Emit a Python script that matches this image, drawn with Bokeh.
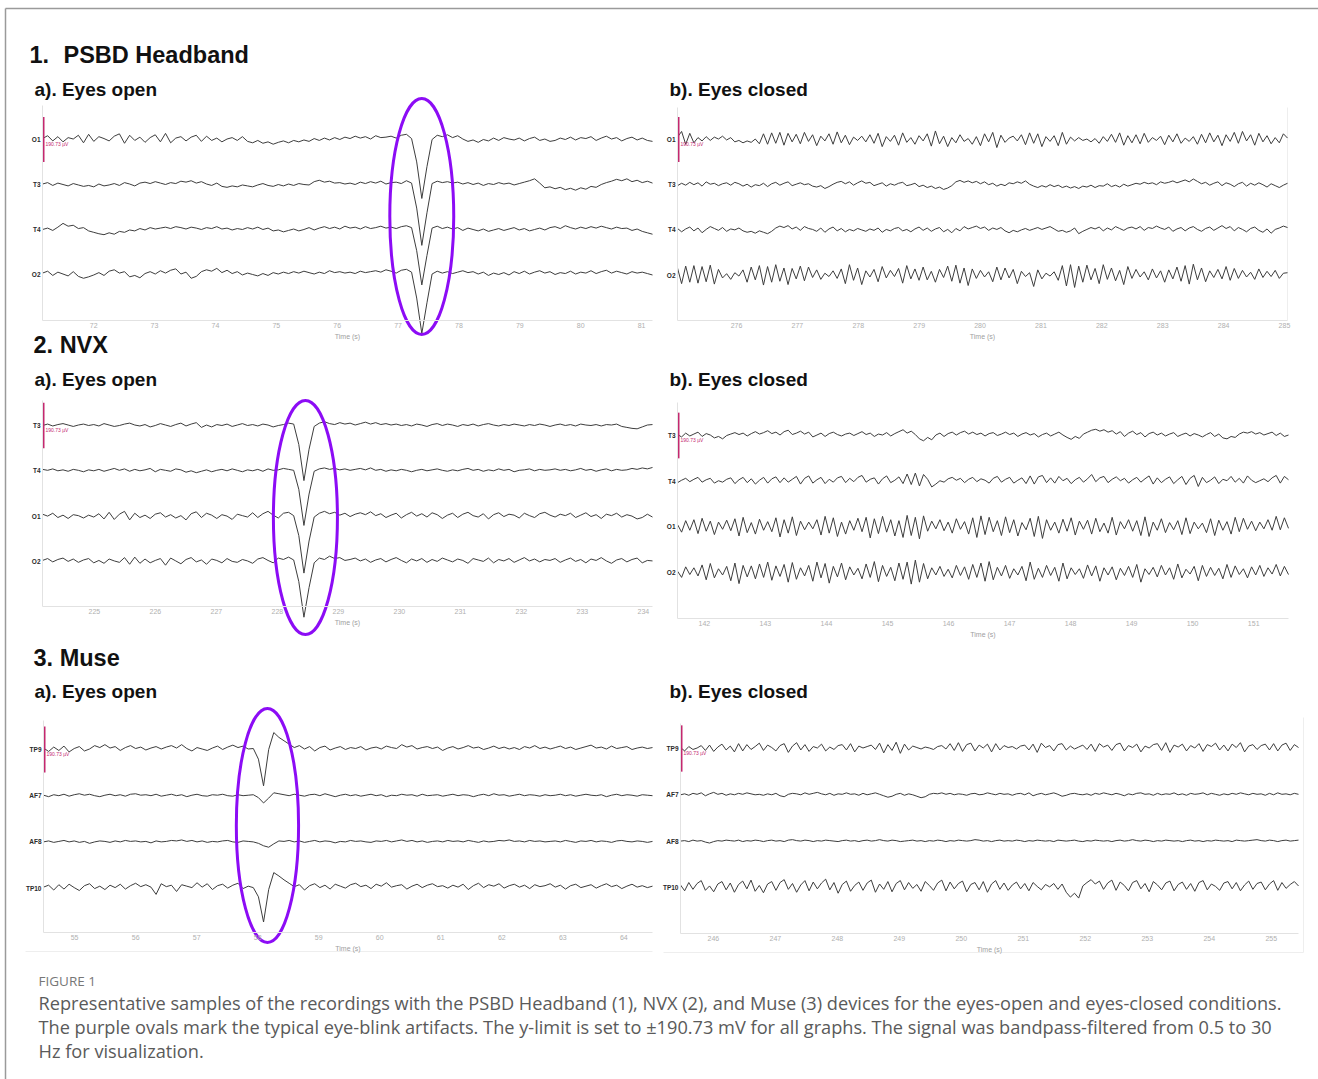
import numpy as np
from bokeh.plotting import figure
from bokeh.models import Range1d, LinearAxis, FixedTicker
from bokeh.core.properties import value
from bokeh.embed import file_html
from bokeh.resources import INLINE

W, H = 1318, 1079
SCALE_UV = 190.73  # y-limit / scale bar in µV

# ---------------- data ----------------
CH_PSBD = ["O1", "T3", "T4", "O2"]
CH_NVX = ["T3", "T4", "O1", "O2"]
CH_MUSE = ["TP9", "AF7", "AF8", "TP10"]

WIN_1A = (71.16, 81.18)
WIN_1B = (275.03, 285.05)
WIN_2A = (224.15, 234.15)
WIN_2B = (141.56, 151.57)
WIN_3A = (54.49, 64.47)
WIN_3B = (245.47, 255.44)

TICKS_1A = [72, 73, 74, 75, 76, 77, 78, 79, 80, 81]
TICKS_1B = [276, 277, 278, 279, 280, 281, 282, 283, 284, 285]
TICKS_2A = [225, 226, 227, 228, 229, 230, 231, 232, 233, 234]
TICKS_2B = [142, 143, 144, 145, 146, 147, 148, 149, 150, 151]
TICKS_3A = [55, 56, 57, 58, 59, 60, 61, 62, 63, 64]
TICKS_3B = [246, 247, 248, 249, 250, 251, 252, 253, 254, 255]

# blink centres (s)
BLINK_1A = 77.39
BLINK_2A = 228.46
BLINK_3A = 58.16

# ---- PSBD, eyes open (µV) ----
P1A_O1 = [4, 16, -6, 12, -10, 8, 2, 18, -14, 22, -8, 12, 4, -6, 14, 24, -16, 18, -4, 10,
          -12, 8, 20, -10, 26, -14, 6, 12, -6, 10, 18, -8, 14, -4, 6, -10, 2, 8, -4, 12,
          -8, -14, -4, -16, -10, -20, -12, -6, -14, -4, -10, -2, -8, 4, -4, 6, -2, 8, 0, 10,
          4, 14, 6, 12, 2, 16, 8, 10, 14, 6, 18, 22, 4, -95, -250, -115, 0, 18, 12, 20,
          8, 16, 2, -8, -2, -12, 0, -6, 6, -4, 8, 2, -2, 6, -6, 4, 10, -4, 2, -8,
          -4, 6, 0, 10, -2, 8, 4, 12, -4, 6, 14, 2, 8, -6, 4, 10, -2, 6, -4, -8]
P1A_T3 = [2, 8, -4, 6, 0, -6, 4, -2, -8, -4, -10, 2, -6, -2, 4, -4, 8, 2, -6, 6,
          10, 4, 12, 6, 0, 8, 4, 14, 10, 16, 6, 12, 2, -4, 6, -8, -12, -6, -10, -2,
          -6, -10, -2, 4, -4, -8, 0, -6, 2, -4, 4, 0, -2, 12, 18, 10, 14, 6, 8, 2,
          6, 0, 10, 4, 12, 6, 14, 2, 8, 10, 4, 16, 6, -100, -258, -120, 4, 14, 8, 12,
          6, 10, 2, 8, 0, 6, -4, 4, 0, 8, 2, 6, -2, 4, 10, 16, 24, 6, -14, -10,
          -18, -12, -22, -16, -24, -14, -20, -8, -12, 0, 8, 14, 22, 16, 24, 12, 18, 8, 14, 6]
P1A_T4 = [0, 6, -4, 10, 26, 14, 18, 4, 8, -6, -12, -18, -22, -14, -20, -8, -12, -2, -6, 4,
          -2, 8, 2, 6, 10, 4, 12, 8, 2, 10, 6, 0, 8, 4, 12, 2, 6, -2, 4, 0,
          8, 2, 10, 0, 6, -6, -2, -10, -4, 2, -6, 0, 8, -2, 6, 12, 4, 10, 2, 14,
          6, 10, 2, 12, 4, 8, 14, 6, 10, 4, 12, 16, 8, -90, -235, -110, 6, 14, 4, 10,
          2, 8, -4, 6, 0, -6, 2, -8, -2, 4, -4, 2, 8, -2, 4, -6, 0, 6, -2, 8,
          12, 4, 16, 8, 2, 10, 4, 12, 6, 14, 8, 2, 10, 4, 6, -4, 2, -8, -14, -20]
P1A_O2 = [6, 14, -4, 10, 2, -6, 12, -8, -16, -10, -2, 8, -4, 14, 20, 6, 12, -10, -4, -14,
          4, 12, 2, 16, 6, 18, 24, 2, 10, -16, -8, 12, 20, 14, 26, 8, 18, 4, 12, -2,
          6, 0, -6, 4, -4, 8, 2, 10, 4, 12, 6, 14, 8, 2, 10, 4, 16, 8, 12, 6,
          10, 4, 14, 8, 12, 16, 10, 20, 14, 6, 18, 22, 10, -100, -250, -120, 2, 14, 6, 12,
          4, 10, 16, 8, 12, 2, 10, -4, 6, 0, 8, -2, 12, 4, 14, 2, 10, 16, 6, 12,
          0, 8, 4, 14, 2, 10, 6, 16, 4, 12, 18, 6, 14, 8, 2, 12, 6, 10, 4, -2]

# ---- PSBD, eyes closed (µV) ----
P1B_O1 = [10, 34, -20, 26, -14, 8, -6, 12, -4, 10, 2, 14, -2, 8, -10, -4, -14, -6, -12, 2,
          -18, 24, -20, 28, -16, 30, -24, 26, -10, 22, -18, 30, -8, 20, -26, 14, -6, 24, -20, 32,
          -14, 18, -22, 10, -4, 14, -10, 20, -16, 26, -30, 12, -8, 18, -24, 28, -12, 8, -20, 16,
          -6, 24, -28, 36, -18, 14, -30, 8, -14, 20, -8, 4, -20, 12, -26, 24, -10, 30, -34, 18,
          -12, 6, 14, -6, 20, -22, 28, -16, 24, -30, 12, -8, 16, -26, 30, -20, 10, -6, 8, -4,
          2, -10, 4, -16, 12, -8, 22, -12, 28, -24, 16, -14, 20, -18, 26, -12, 8, -4, 14, -22,
          18, -10, 24, -16, 6, -8, 12, -20, 22, -14, 28, -10, 18, -26, 20, -8, 30, -16, 34, -6,
          20, -24, 26, -10, 16, -18, 8, -14, 24, 6]
P1B_T3 = [-4, 6, -2, 10, 0, 8, -6, 12, 2, 6, -4, 4, 8, -2, 10, 4, -6, 2, -10, 0,
          -4, 6, -8, 4, 10, -2, 6, 12, -4, 2, 8, 0, 4, -6, -10, -4, -16, -8, 2, 10,
          14, 4, 12, -2, 8, 16, 6, 10, -4, 2, 8, -6, 4, -2, 6, 10, -4, 0, 6, -8,
          -2, -12, -6, -16, -10, -20, -14, -4, 12, 18, 10, 16, 8, 14, 4, 12, 0, 6, -6, 2,
          -4, 8, 4, 12, 6, 16, 2, -6, -12, -4, -10, 0, -8, -2, -12, -6, -14, -8, -16, -6,
          -10, -2, -12, -4, -6, 4, -8, -2, -10, 2, -6, 0, 6, 2, 10, 4, 8, 0, 12, 6,
          10, 16, 8, 14, 20, 12, 24, 14, 4, 10, -2, 6, 12, -4, 8, 2, -8, 4, 10, -6,
          6, -2, 8, 0, -10, 4, -4, -12, -2, 6]
P1B_T4 = [6, -8, 4, 12, -4, 8, -12, 2, 14, 6, -2, 10, -6, 4, 0, 8, -4, -10, -6, -14,
          -4, -10, -16, -6, 8, 16, 10, 18, 4, 12, -2, 14, 6, 2, -6, 8, -10, 4, 12, -4,
          6, -8, 2, -4, 6, 0, -6, 4, -2, 8, -10, 2, -4, 6, 10, -4, 2, -8, 4, 12,
          -2, 8, -6, 4, 10, -8, 2, -12, 6, -4, 14, 4, 10, 16, 6, 12, -2, 8, 2, 10,
          -4, -12, -2, -8, 0, 6, -2, 4, 10, 2, 8, 14, 4, -6, -2, -10, -4, 8, -16, -6,
          2, 10, 4, 12, -4, 8, 0, 14, 6, -2, 8, 12, 4, 14, -2, 10, 6, 16, 8, 2,
          12, -6, 4, 10, -4, 8, 14, 2, -6, 6, 12, -2, 8, 18, 6, 14, -4, 10, 2, -8,
          6, 12, -2, -10, 4, -14, 2, 8, 16, 10]
P1B_O2 = [30, -36, 38, -30, 40, -34, 36, -28, 42, -38, 24, -12, 6, -18, 10, -4, 22, -30, 34, -20,
          40, -42, 36, -30, 44, -26, 30, -40, 28, -16, 38, -24, 34, -10, 22, -18, 8, -6, 18, -14,
          26, -36, 44, -22, 30, -40, 18, -8, 24, -28, 36, -12, 20, -6, 28, -34, 40, -16, 26, -22,
          34, -20, 16, -30, 24, -10, 38, -26, 42, -34, 30, -44, 26, -14, 20, -8, 14, -28, 34, -20,
          30, -12, 24, -36, 16, -6, 10, -48, 22, -16, 8, -4, 14, -22, 40, -46, 44, -52, 38, -30,
          42, -20, 28, -36, 44, -18, 30, -24, 20, -40, 36, -14, 24, -8, 14, -20, 26, -12, 18, -30,
          22, -16, 34, -26, 40, -38, 46, -20, 30, -28, 18, -10, 24, -16, 36, -22, 28, -14, 20, -8,
          12, -18, 26, -10, 16, -6, 20, -14, 8, 10]

# ---- NVX, eyes open (µV) ----
P2A_T3 = [0, 6, -2, 4, 8, 2, -4, 2, 6, 0, 4, -2, 8, 2, -4, 0, 6, 10, 2, -2,
          4, -6, 0, 8, 2, -4, 4, 10, -2, 6, 12, -8, 2, -6, 4, 0, 6, -4, 2, 8,
          0, 4, -2, 6, 2, -6, 0, 4, 10, 6, -80, -232, -100, -4, 10, 16, 8, 4, 12, 6,
          10, 2, 8, 14, 6, 12, 4, 8, 2, 6, 0, 4, -2, 6, 2, -4, 4, 8, 0, 6,
          2, -4, 4, 0, 6, -2, 4, 8, 2, -2, 4, 0, 6, 2, -2, 4, 0, 6, 2, -4,
          2, 6, 0, 4, -2, 6, 2, 0, 4, -2, 4, 2, 6, -4, -8, -12, -14, -6, 2, 4]
P2A_T4 = [6, 2, 8, 0, 4, -2, 6, 2, -4, 4, 0, 6, -2, 4, 10, 2, 8, -2, 6, 0,
          4, 10, -4, 6, 2, -2, 8, 4, -6, 0, -8, -2, 4, -4, 2, 6, 0, 8, 2, -4,
          4, 0, 6, -2, 8, 2, 4, 10, 6, 2, -78, -230, -98, -2, 8, 12, 6, 10, 4, 8,
          2, 6, 10, 4, 12, 2, 6, -2, 4, 0, 6, 2, -4, 2, 6, 0, 4, 8, 2, -2,
          4, 0, 6, 10, 2, 6, -2, 4, 0, 8, 2, 6, -4, 2, 4, 8, 0, 6, 2, 4,
          8, 2, 6, 0, 4, 10, 2, 6, -2, 4, 8, 0, 6, 2, 4, 10, 6, 12, 8, 14]
P2A_O1 = [8, 0, 12, -6, 4, -10, 6, 2, -8, 4, -4, 10, -12, 16, -14, 8, 20, -16, 12, -6,
          4, -10, 8, 14, -4, 6, -8, 2, -16, 10, 18, -6, 12, 4, -10, 6, 0, -14, 8, 2,
          -4, 14, -6, 10, 20, 4, -8, 12, 16, 2, -82, -240, -105, -4, 12, 20, 10, 16, 4, 12,
          -2, 8, 14, 6, 18, 2, 10, -6, 4, 12, -8, 6, 16, 0, 10, -4, 14, 6, -10, 4,
          12, -6, 8, 16, 2, -4, 10, -12, 6, 14, -2, 8, 4, -8, 12, 2, -6, 10, 16, 4,
          -4, 8, 2, 12, -6, 4, 14, -2, 6, -10, 8, 2, 12, -4, 6, 0, -12, -6, 8, -4]
P2A_O2 = [4, 12, -2, 8, 14, 0, 10, -4, 6, 12, -6, 4, -8, 10, 2, -4, 16, -12, 18, -8,
          10, -6, 4, 12, -16, 14, 2, -10, 8, 16, -2, 6, -12, 10, 4, -6, 12, 0, -4, 8,
          2, -8, 10, 16, 4, -6, 14, 8, 18, 6, -85, -235, -110, -6, 14, 8, 22, 12, 16, 4,
          8, 14, 2, 10, -4, 6, 12, -2, 8, 16, 4, -6, 10, 2, 12, -4, 8, 0, 14, 6,
          -2, 10, 4, -8, 12, 6, 0, 14, -6, 8, 2, 12, -4, 6, 16, 2, 10, -2, 8, 4,
          12, -4, 6, 14, 0, 8, -6, 10, 4, 16, 2, -8, 6, 12, -2, 8, 14, -6, 4, 2]

# ---- NVX, eyes closed (µV) ----
P2B_T3 = [4, -6, 10, -2, 6, 14, -4, 8, 2, -10, -4, -14, 0, 6, 12, 4, 10, -2, 8, 16,
          6, 12, 20, 8, 14, 2, 16, 22, 4, 10, 18, 6, 14, -6, 2, 10, -4, 8, 14, 4,
          -2, 6, 10, 0, 8, 16, 4, 10, -4, 6, 2, 12, -2, 8, 16, 24, 10, 18, 4, -14,
          -22, -8, -18, 2, 10, -4, 8, 14, 2, 12, 18, 6, 14, 4, 10, -2, 8, 12, 0, 6,
          14, 4, 10, -4, 6, 12, 2, 8, -6, 4, 10, -2, 6, 14, 2, -8, -16, -4, -12, 6,
          14, 22, 26, 18, 24, 14, 20, 6, 16, -4, 10, 18, 4, 12, -6, 8, 14, 2, 10, -2,
          6, 12, -4, 4, 10, -2, 8, 2, -6, 4, 12, -4, 6, -10, -14, -4, -8, 6, 14, 10,
          16, 6, 12, 2, 8, 14, 0, 10, -4, 2]
P2B_T4 = [-6, 4, 12, -2, 8, 16, -4, 6, 12, -8, 2, -4, 8, 14, -10, 6, 16, -6, 10, -12,
          4, 16, -8, 10, 18, -6, 14, -4, 8, 20, -12, 12, 22, -8, 6, 16, -10, 8, -4, 14,
          20, -6, 12, -2, 16, 24, -4, 8, 14, -12, 10, 22, -6, 4, 18, -10, 30, -14, 34, -20,
          28, 8, -24, -12, 2, -4, 10, 16, 4, 12, -6, 8, 16, -2, 10, 4, -8, 12, 20, -4,
          8, 16, -8, 4, 14, -10, 22, -12, 18, 24, -6, 14, -8, 20, 2, 12, -10, 6, 16, -4,
          10, 28, -2, 14, 20, -6, 8, 18, 2, 12, -8, 6, 16, -4, 10, 22, -12, 14, -6, 8,
          18, -10, 6, 20, -14, 12, 24, -22, 16, -6, 4, 18, -10, 8, 2, 20, -4, 12, -8, 22,
          4, -6, 2, 10, -2, 14, 24, -8, 20, 6]
P2B_O1 = [10, -22, 26, -14, 30, -28, 36, -18, 24, -32, 20, -10, 28, -16, 34, -38, 40, -24, 18, -30,
          32, -14, 22, -20, 38, -42, 30, -26, 42, -36, 24, -12, 20, -8, 30, -34, 44, -26, 38, -40,
          20, -30, 26, -14, 36, -20, 40, -46, 34, -28, 44, -22, 30, -38, 26, -44, 48, -36, 40, -50,
          46, -18, 24, -8, 30, -16, 20, -26, 34, -10, 22, -30, 38, -44, 46, -32, 40, -20, 26, -36,
          42, -24, 30, -38, 18, -12, 36, -40, 44, -48, 30, -14, 20, -26, 32, -18, 38, -34, 24, -10,
          28, -30, 36, -20, 16, -26, 40, -34, 22, -8, 30, -18, 26, -36, 42, -40, 20, -14, 34, -24,
          18, -12, 26, -32, 38, -28, 20, -8, 16, -24, 34, -36, 28, -14, 22, -30, 40, -20, 36, -10,
          24, -16, 20, -8, 30, -14, 44, -12, 38, -6]
P2B_O2 = [6, -20, 24, -8, 20, -14, 32, -30, 38, -22, 16, -10, 26, -34, 40, -46, 30, -18, 28, -26,
          36, -20, 44, -32, 28, -16, 34, -40, 42, -28, 20, -14, 30, -36, 44, -22, 38, -44, 26, -18,
          40, -30, 24, -10, 18, -26, 36, -20, 46, -38, 30, -16, 22, -34, 40, -28, 44, -48, 52, -40,
          38, -26, 20, -10, 26, -16, 14, -22, 30, -12, 24, -28, 34, -20, 40, -36, 46, -30, 22, -14,
          30, -24, 16, -10, 26, -34, 44, -28, 18, -20, 30, -12, 22, -36, 40, -26, 20, -8, 16, -24,
          32, -14, 28, -36, 20, -10, 24, -30, 18, -12, 26, -20, 34, -40, 16, -8, 22, -18, 30, -10,
          20, -28, 36, -22, 14, -6, 26, -34, 30, -16, 22, -12, 18, -26, 34, -20, 28, -8, 16, -22,
          24, -10, 30, -16, 20, -6, 34, -14, 26, -8]

# ---- Muse, eyes open (µV) ----
P3A_TP9 = [6, -8, 10, -4, 14, -10, 4, 12, -6, 2, 16, 8, 20, 6, 12, -4, 8, 16, 4, 10,
           -2, 6, 12, 2, 10, 16, 6, 20, 4, -6, 8, 2, -4, 6, 14, 0, 10, 18, 8, 14,
           2, 4, -40, -150, 0, 70, 50, 36, 22, 8, 16, 2, 12, -6, 8, 14, -2, 6, 12, 0,
           8, 4, 12, -2, 6, 10, 2, 14, 8, 4, 20, 10, 16, 2, 8, 12, 4, 10, -4, 6,
           12, 2, 8, 16, 6, 10, 0, 6, 14, 4, 10, 2, 8, 0, 12, 6, 16, 4, 10, 2,
           8, 14, 4, 10, 0, 6, 12, 18, 6, 10, 2, 14, 4, 8, 12, 0, 6, 10, 4, 8]
P3A_AF7 = [2, -4, 4, 0, 6, -2, 4, 8, 2, 6, 0, -4, 2, 6, 0, 4, -2, 6, 8, 2,
           4, 0, 6, -2, 2, 6, 0, 4, -4, 2, 6, 0, -2, 4, 2, 6, 0, -2, 4, 0,
           2, 4, -8, -30, -10, 12, 8, 4, 0, 6, 2, -2, 4, 6, 0, 8, 2, -4, 2, 6,
           0, 4, -2, 2, 6, 0, 4, -4, 2, 0, 6, 2, 4, -2, 6, 0, 2, 4, -2, 2,
           6, 0, 4, 2, -4, 2, 6, 0, 8, 2, 4, -2, 2, 6, 0, 4, 2, -2, 4, 0,
           2, 6, 0, 4, -2, 2, 6, 2, 0, 4, -4, 2, 6, 0, 4, 2, -2, 4, 2, 0]
P3A_AF8 = [0, 4, -2, 2, 6, 0, 4, -2, 2, -6, 0, 4, 2, -2, 4, 0, 6, 2, 4, 0,
           2, -4, 4, 0, 2, 6, 4, 8, 2, 6, 0, 4, -2, 2, 0, 4, 6, 0, -2, 4,
           2, 0, -6, -16, -22, -8, 4, 2, 6, 0, 4, -2, 2, 6, 0, 4, 2, -4, 2, 0,
           6, 2, 4, 0, -2, 4, 2, 6, 0, 4, 8, 2, 6, 0, 4, -2, 2, 4, 0, 6,
           2, 4, 0, 6, 2, -2, 4, 0, 2, 6, 4, 8, 2, 4, 0, 6, 2, 4, 0, 2,
           4, 0, 6, 2, -2, 4, 2, 6, 0, 4, 2, -2, 4, 6, 2, 0, 4, 2, -2, 2]
P3A_TP10 = [4, 12, -8, 14, -4, 16, 2, -10, 10, 18, -2, 8, -6, 12, 2, 16, -4, 10, 20, 6,
            14, 4, -26, 18, 6, 12, -14, 14, 8, 2, 22, 4, 18, -6, 10, 16, 0, 12, 20, -2,
            8, 2, -36, -140, -6, 64, 50, 34, 20, 6, 14, -8, 10, 18, 2, 12, -4, 16, 8, 0,
            14, 20, 6, 12, -2, 16, 8, 22, 4, 10, 14, -4, 8, 16, 2, 12, 18, 6, 10, 0,
            12, 4, 16, -6, 10, 20, 2, 14, 8, 18, 0, 10, 16, 4, 12, -2, 14, 6, 10, 18,
            4, 12, -4, 10, 16, 2, 8, 14, 0, 10, 18, 6, 12, -2, 8, 16, 4, 10, 2, 8]

# ---- Muse, eyes closed (µV) ----
P3B_TP9 = [4, -10, 8, -4, 2, 12, -8, 14, -12, 6, 18, -6, 10, -14, 20, -10, 16, -4, 8, 22,
           -8, 14, 4, -10, 12, 20, -16, 10, 24, -6, 16, -12, 8, 2, 18, -10, 6, -4, 12, 16,
           -6, 20, -14, 10, 2, 8, 14, -4, 22, -18, 16, -8, 26, -20, 18, -6, 10, 4, -2, 6,
           2, -4, 8, 12, -2, 20, -8, 24, -12, 16, 22, -10, 14, 2, 18, -14, 20, -6, 12, 4,
           8, -2, 10, 14, -6, 18, -16, 22, 4, 12, -10, 16, 20, -6, 10, -2, 6, 14, -4, 18,
           -12, 20, 6, 14, -8, 16, 22, -10, 12, 4, 18, -14, 10, 2, 16, 20, -8, 24, -16, 14,
           6, 18, -10, 12, 2, 20, -12, 16, 8, 22, -6, 14, -10, 18, 4, 24, -14, 10, 16, -4,
           12, 18, -6, 20, -10, 14, 22, -8, 16, 4]
P3B_AF7 = [0, 4, -2, 6, 2, 8, -4, 4, 10, 2, 6, -2, 4, 0, 6, 2, 8, 4, 0, 2,
           -2, 4, 0, 6, -4, -8, 2, 6, 4, 0, 8, 2, 6, 10, 4, 0, 6, -2, 4, 2,
           8, 2, 4, -2, 6, 0, 4, 8, 2, -4, -10, -6, 2, 6, -2, 4, 0, -6, -12, -8,
           2, 6, 4, 8, 2, 6, 0, 4, 2, -2, 4, 6, 0, 2, 8, 4, 0, 6, 2, 4,
           -2, 4, 6, 0, 8, -4, 2, 6, 0, 4, 8, 2, -6, -2, 4, 6, 2, 0, 4, -2,
           6, 2, 8, 4, 0, 6, 2, -4, 4, 0, 6, 8, 2, 4, -2, 6, 0, 4, 2, 8,
           0, 4, -2, 6, 2, 4, 8, 0, 6, 2, -2, 4, 0, 6, 2, 8, 4, 0, 6, 2,
           4, -2, 6, 0, 8, 2, 4, 0, 6, 2]
P3B_AF8 = [0, 2, -2, 4, 0, 2, -4, -8, -2, 2, 0, 4, 2, 0, 4, -2, 2, 0, 4, 2,
           -2, 2, 4, 0, 2, -2, 4, 6, 2, 0, 4, 2, -2, 2, 0, 4, 2, 0, -2, 2,
           4, 0, 2, -2, 2, 4, 0, 2, 6, 2, 0, 4, 2, -2, 0, 2, 4, 0, 2, -2,
           2, 0, 4, 2, -2, 2, 0, 4, 2, 0, 2, 6, 4, 0, 2, -2, 2, 4, 0, 2,
           0, 4, 2, -2, 2, 0, 4, 2, 0, 2, -2, 4, 2, 0, 2, 4, 0, -2, 2, 0,
           4, 2, 0, 2, -2, 2, 4, 0, 2, 6, 2, 0, 4, 2, -2, 2, 0, 4, 2, 0,
           2, -2, 2, 4, 0, 2, -2, 2, 0, 4, 2, 0, 2, -2, 4, 2, 0, 2, 4, 6,
           2, 0, 4, 2, -2, 2, 4, 0, 2, 4]
P3B_TP10 = [10, -14, 20, -8, 16, 28, -12, 6, -18, 14, 24, -10, 18, -20, 12, 26, -6, 30, -16, 8,
            -22, 14, 24, -12, 20, 32, -8, 16, -20, 10, 28, -14, 22, -6, 18, 34, -10, 20, -24, 12,
            26, -16, 8, 22, -12, 18, 30, -20, 14, -8, 24, -18, 16, 28, -10, 20, -4, 12, -16, 24,
            8, -12, 18, 30, -14, 22, -6, 16, 26, -18, 12, 20, -10, 24, -20, 14, 28, -8, 18, -12,
            10, 22, -6, 16, -14, 20, 4, -10, 12, 2, 16, -8, 14, -20, -40, -24, -44, 6, 20, 32,
            14, 26, -8, 18, 30, -12, 22, 8, -14, 20, 28, -6, 16, -18, 24, 10, -10, 18, 26, -14,
            12, 22, -8, 16, -16, 20, 28, -10, 14, 4, -12, 18, 24, -6, 20, -14, 10, 26, -8, 16,
            22, -10, 14, 28, -12, 20, -4, 12, 24, 6]

PANELS = [
    ("1a", WIN_1A, TICKS_1A, CH_PSBD, [P1A_O1, P1A_T3, P1A_T4, P1A_O2]),
    ("1b", WIN_1B, TICKS_1B, CH_PSBD, [P1B_O1, P1B_T3, P1B_T4, P1B_O2]),
    ("2a", WIN_2A, TICKS_2A, CH_NVX, [P2A_T3, P2A_T4, P2A_O1, P2A_O2]),
    ("2b", WIN_2B, TICKS_2B, CH_NVX, [P2B_T3, P2B_T4, P2B_O1, P2B_O2]),
    ("3a", WIN_3A, TICKS_3A, CH_MUSE, [P3A_TP9, P3A_AF7, P3A_AF8, P3A_TP10]),
    ("3b", WIN_3B, TICKS_3B, CH_MUSE, [P3B_TP9, P3B_AF7, P3B_AF8, P3B_TP10]),
]

# ---------------- layout (page pixels) & styles ----------------
GEOM = {
    "1a": dict(px0=42, px1=652, yc0=139, gap=45.0, top=105, bottom=320),
    "1b": dict(px0=677, px1=1287, yc0=139, gap=45.2, top=107, bottom=320),
    "2a": dict(px0=42, px1=652, yc0=425, gap=45.3, top=400, bottom=606),
    "2b": dict(px0=677, px1=1288, yc0=435, gap=45.7, top=402, bottom=618),
    "3a": dict(px0=43, px1=652, yc0=749, gap=46.2, top=720, bottom=932),
    "3b": dict(px0=680, px1=1298, yc0=748, gap=46.3, top=723, bottom=933),
}
OVALS = {
    "1a": dict(t=BLINK_1A, w=1.05, py=216, ph=236),
    "2a": dict(t=BLINK_2A, w=1.05, py=517, ph=234),
    "3a": dict(t=BLINK_3A, w=1.02, py=825, ph=234),
}
TRACE = "#3d3d3d"
MAGENTA = "#c4286f"
PURPLE = "#8c0cf5"
AXIS_GRAY = "#e2e2e2"
FONT = value("Liberation Sans")

p = figure(width=W, height=H, x_range=Range1d(0, W), y_range=Range1d(H, 0),
           x_axis_type=None, y_axis_type=None, output_backend="svg",
           toolbar_location=None, min_border=0)
p.outline_line_color = None
p.background_fill_color = "white"
p.border_fill_color = "white"

xr, yr, conv = {}, {}, {}
for key, (t0, t1), ticks, names, traces in PANELS:
    g = GEOM[key]
    sx = (g["px1"] - g["px0"]) / (t1 - t0)
    k = g["gap"] / SCALE_UV
    xs = t0 - g["px0"] / sx
    xr[key] = Range1d(xs, xs + W / sx)
    yr[key] = Range1d(-(H - g["yc0"]) / k, g["yc0"] / k)
    conv[key] = (sx, k)
p.extra_x_ranges = xr
p.extra_y_ranges = yr

# page frame decorations
p.segment(x0=[5, 5], y0=[8, 8], x1=[W, 5], y1=[8, H], line_color="#9a9a9a", line_width=1.5)
p.segment(x0=[25, 663, 1303, 1287], y0=[951, 952, 717, 107], x1=[652, 1303, 1303, 1287],
          y1=[951, 952, 952, 320], line_color="#eeeeee", line_width=1)

for key, (t0, t1), ticks, names, traces in PANELS:
    g = GEOM[key]
    sx, k = conv[key]

    def yv(py):
        return (g["yc0"] - py) / k

    offsets = [0.0 - i * SCALE_UV for i in range(len(names))]
    for vals, off in zip(traces, offsets):
        t = np.linspace(t0, t1, len(vals))
        p.line(t, np.asarray(vals, dtype=float) + off, x_range_name=key, y_range_name=key,
               line_color=TRACE, line_width=1)

    xa = LinearAxis(x_range_name=key, y_range_name=key, fixed_location=yv(g["bottom"]),
                    bounds=(t0, t1), ticker=FixedTicker(ticks=ticks), axis_label="Time (s)")
    ya = LinearAxis(x_range_name=key, y_range_name=key, fixed_location=t0,
                    bounds=(yv(g["bottom"]), yv(g["top"])), ticker=FixedTicker(ticks=offsets),
                    major_label_overrides={o: n for o, n in zip(offsets, names)})
    for ax in (xa, ya):
        ax.axis_line_color = AXIS_GRAY
        ax.axis_line_width = 1
        ax.major_tick_line_color = None
        ax.minor_tick_line_color = None
        ax.major_tick_out = 0
        ax.major_tick_in = 0
        ax.minor_tick_out = 0
        ax.minor_tick_in = 0
        ax.major_label_text_font = "Liberation Sans"
    xa.major_label_text_font_size = "7px"
    xa.major_label_text_color = "#b0b0b0"
    xa.major_label_standoff = 2
    xa.axis_label_text_font_size = "7px"
    xa.axis_label_text_color = "#a0a0a0"
    xa.axis_label_text_font_style = "normal"
    xa.axis_label_text_font = "Liberation Sans"
    xa.axis_label_standoff = 2
    ya.major_label_text_font_size = "6.5px"
    ya.major_label_text_font_style = "bold"
    ya.major_label_text_color = "#2a2a2a"
    ya.major_label_standoff = 2
    p.add_layout(xa, "below")
    p.add_layout(ya, "left")

    # scale bar (±190.73 µV)
    xb = t0 + 1.0 / sx
    p.segment(x0=[xb], y0=[SCALE_UV / 2], x1=[xb], y1=[-SCALE_UV / 2],
              x_range_name=key, y_range_name=key, line_color=MAGENTA, line_width=2)
    p.text(x=[t0 + 3.0 / sx], y=[-4.0 / k], text=["%.2f µV" % SCALE_UV],
           x_range_name=key, y_range_name=key, text_font=FONT, text_font_size="5px",
           text_color=MAGENTA, text_baseline="middle", text_align="left")

    if key in OVALS:
        o = OVALS[key]
        p.ellipse(x=[o["t"]], y=[yv(o["py"])], width=[o["w"]], height=[o["ph"] / k],
                  x_range_name=key, y_range_name=key, fill_color=None,
                  line_color=PURPLE, line_width=3)

# headings (page coordinates, vertical centres)
HEADINGS = [
    ("1.", 29, 54, "23.5px"), ("PSBD Headband", 63, 54, "23.5px"),
    ("a). Eyes open", 34, 89, "19px"), ("b). Eyes closed", 669, 89, "19px"),
    ("2. NVX", 33, 344, "23.5px"),
    ("a). Eyes open", 34, 379, "19px"), ("b). Eyes closed", 669, 379, "19px"),
    ("3. Muse", 33, 657, "23.5px"),
    ("a). Eyes open", 34, 691, "19px"), ("b). Eyes closed", 669, 691, "19px"),
]
for txt, x, y, fs in HEADINGS:
    p.text(x=[x], y=[y], text=[txt], text_font=FONT, text_font_style="bold",
           text_font_size=fs, text_color="#111111", text_baseline="middle", text_align="left")

p.text(x=[38], y=[980], text=["FIGURE 1"], text_font=value("Open Sans"), text_font_size="13.5px",
       text_color="#777777", text_baseline="middle", text_align="left")
CAPTION = [
    "Representative samples of the recordings with the PSBD Headband (1), NVX (2), and Muse (3) devices for the eyes-open and eyes-closed conditions.",
    "The purple ovals mark the typical eye-blink artifacts. The y-limit is set to \u00b1190.73 mV for all graphs. The signal was bandpass-filtered from 0.5 to 30",
    "Hz for visualization.",
]
for i, line in enumerate(CAPTION):
    p.text(x=[38], y=[1002 + 24 * i], text=[line], text_font=value("Open Sans"),
           text_font_size="18.2px", text_color="#5a5a5a", text_baseline="middle",
           text_align="left")

open("out.html", "w").write(file_html(p, INLINE))
